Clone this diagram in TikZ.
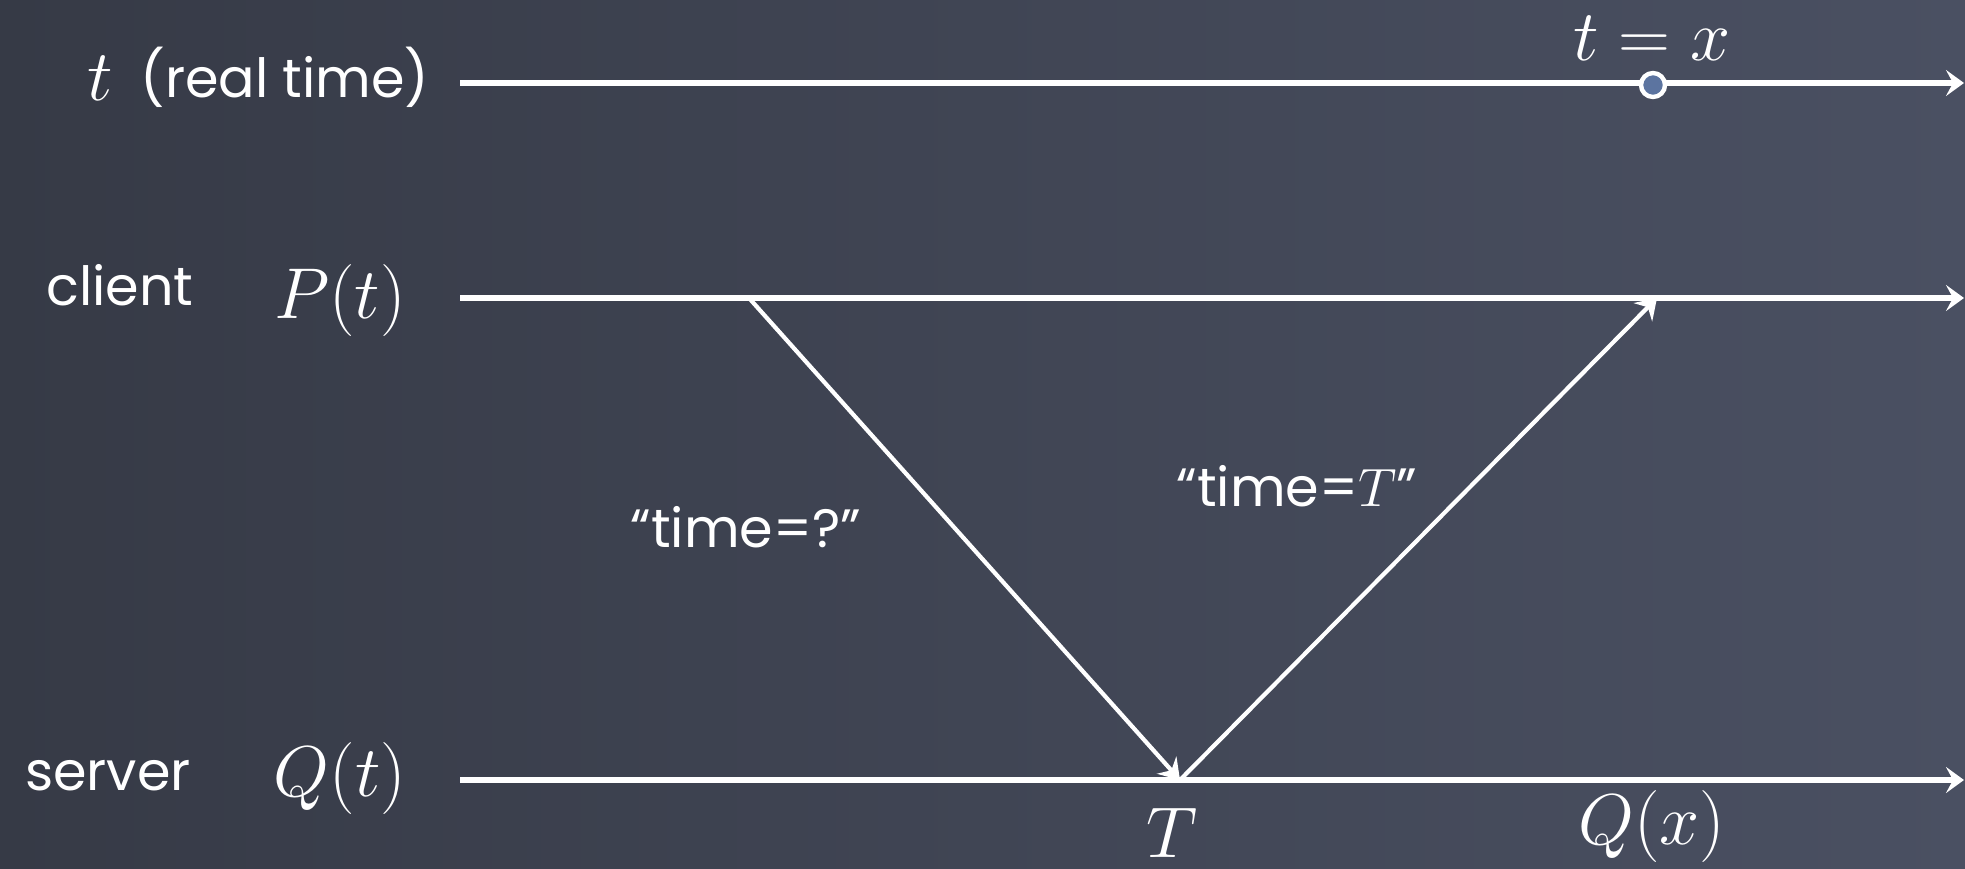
\RequirePackage{fix-cm}
\documentclass[tikz,border=0pt]{standalone}
\usepackage{fontspec}
\setmainfont{Poppins}
\usetikzlibrary{arrows.meta}
\definecolor{bgL}{RGB}{54,58,70}
\definecolor{bgR}{RGB}{74,80,98}
\definecolor{dotfill}{RGB}{92,116,160}
\tikzset{
  axisline/.style={white, line width=2.6pt, -{Stealth[length=9pt,width=13pt,inset=3.5pt]}},
  msgline/.style={white, line width=2.1pt, -{Stealth[length=10pt,width=13pt,inset=3.5pt]}},
  txt/.style={text=white, font=\fontsize{27}{32}\selectfont, inner sep=0pt},
  mth/.style={text=white, font=\fontsize{36}{40}\selectfont, inner sep=0pt},
}
\begin{document}
\begin{tikzpicture}[x=0.5pt,y=-0.5pt]
\shade[left color=bgL, right color=bgR] (0,0) rectangle (1965,868);
\useasboundingbox (0,0) rectangle (1965,868);
% axis coordinates
\coordinate (ts) at (460,83);  \coordinate (te) at (1964,83);
\coordinate (ps) at (460,298); \coordinate (pe) at (1964,298);
\coordinate (qs) at (460,780); \coordinate (qe) at (1964,780);
\coordinate (send) at (749,298);
\coordinate (srv) at (1180,780);
\coordinate (recv) at (1657,298);
% axes
\draw[axisline] (ts) -- (te);
\draw[axisline] (ps) -- (pe);
\draw[axisline] (qs) -- (qe);
% messages
\draw[msgline] (send) -- (srv);
\draw[msgline] (srv) -- (recv);
% point t = x
\node[circle, draw=white, fill=dotfill, line width=2.2pt, minimum size=12pt, inner sep=0pt] (pt) at (1653,85) {};
% labels
\node[mth] (tlab) at (100,78) {$t$};
\node[txt] (rt) at (285,77) {(real time)};
\node[txt, anchor=base] (cl) at (120,305) {client};
\node[mth] (plab) at (340,300) {$P(t)$};
\node[txt, anchor=base] (sv) at (108,790) {server};
\node[mth] (qlab) at (340,778) {$Q(t)$};
\node[mth] (tx) at (1652,38) {$t = x$};
\node[mth] (Tlab) at (1172,833) {$T$};
\node[mth] (qx) at (1652,826) {$Q(x)$};
\node[txt] (m1) at (746,527) {“time=?”};
\node[txt] (m2) at (1297,486) {“time=$T$”};
\end{tikzpicture}
\end{document}
